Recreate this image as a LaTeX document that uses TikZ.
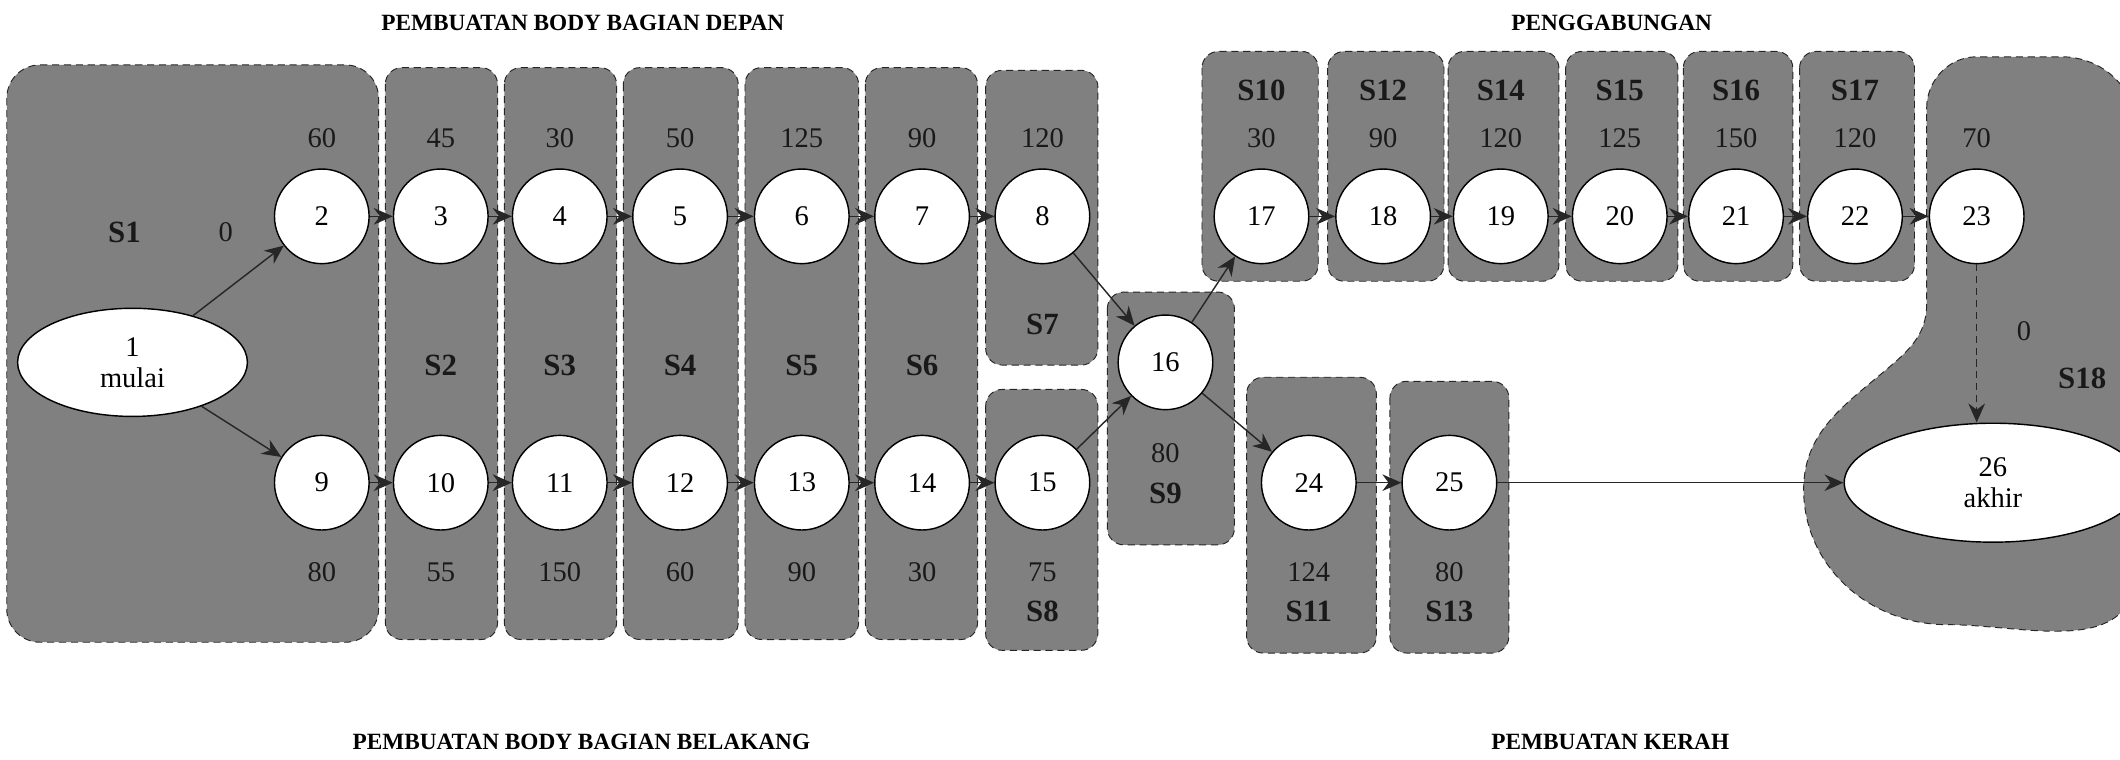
\documentclass[tikz,border=0pt]{standalone}
\usepackage{fontspec}
\setmainfont{Liberation Serif}
\usetikzlibrary{arrows.meta,shapes.geometric}
\begin{document}
\begin{tikzpicture}[x=0.02cm, y=-0.02cm, >={Stealth[length=8pt,width=7pt]},
    stasiun/.style={fill=black!50, draw=black!85, densely dashed, thin, rounded corners=7pt},
    simpul/.style={circle, draw, semithick, fill=white, minimum size=1.4cm, inner sep=0pt, font=\fontsize{12}{12}\selectfont},
    ujung/.style={ellipse, draw, semithick, fill=white, inner sep=0pt, align=center, font=\fontsize{12}{13}\selectfont},
    waktu/.style={font=\fontsize{12}{12}\selectfont, text=black!90},
    kode/.style={font=\bfseries\fontsize{13}{13}\selectfont, text=black!90},
    judul/.style={font=\bfseries\fontsize{9.8}{10}\selectfont},
    panah/.style={->, draw=black!85, semithick}]
    \useasboundingbox (0,0) rectangle (1568,562);

    % judul
    \node[judul] (jdepan) at (431,17) {PEMBUATAN BODY BAGIAN DEPAN};
    \node[judul] (jgabung) at (1192,17) {PENGGABUNGAN};
    \node[judul] (jbelakang) at (430,549) {PEMBUATAN BODY BAGIAN BELAKANG};
    \node[judul] (jkerah) at (1191,549) {PEMBUATAN KERAH};

    % stasiun kerja
    \fill[stasiun, rounded corners=14pt] (5,48) rectangle (280,475);
    \foreach \xa/\xb in {285/368, 373/456, 461/546, 551/635, 640/723}
        \fill[stasiun] (\xa,50) rectangle (\xb,473);
    \fill[stasiun] (729,52) rectangle (812,270);
    \fill[stasiun] (729,288) rectangle (812,481);
    \fill[stasiun] (819,216) rectangle (913,403);
    \foreach \xa/\xb in {889/975, 982/1068, 1071/1153, 1158/1241, 1245/1326, 1331/1416}
        \fill[stasiun] (\xa,38) rectangle (\xb,208);
    \fill[stasiun] (922,279) rectangle (1018,483);
    \fill[stasiun] (1028,282) rectangle (1116,483);
    % S18
    \fill[stasiun, rounded corners=0pt] (1425,80) to[out=90,in=180] (1462,42) -- (1525,42)
        to[out=0,in=90] (1580,95) -- (1580,430) to[out=-100,in=0] (1440,462)
        to[out=180,in=-90] (1334,362) to[out=90,in=-140] (1392,276)
        to[out=40,in=-90] (1425,225) -- cycle;

    % simpul
    \node[ujung, minimum width=3.4cm, minimum height=1.6cm] (1) at (98,268) {1\\mulai};
    \foreach \n/\x in {2/238, 3/326, 4/414, 5/503, 6/593, 7/682, 8/771}
        \node[simpul] (\n) at (\x,160) {\n};
    \foreach \n/\x in {9/238, 10/326, 11/414, 12/503, 13/593, 14/682, 15/771}
        \node[simpul] (\n) at (\x,357) {\n};
    \node[simpul] (16) at (862,268) {16};
    \foreach \n/\x in {17/933, 18/1023, 19/1110, 20/1198, 21/1284, 22/1372, 23/1462}
        \node[simpul] (\n) at (\x,160) {\n};
    \node[simpul] (24) at (968,357) {24};
    \node[simpul] (25) at (1072,357) {25};
    \node[ujung, minimum width=4.4cm, minimum height=1.76cm] (26) at (1474,357) {26\\akhir};

    % waktu proses
    \node[waktu] (w1) at (167,172) {0};
    \foreach \n/\x/\t in {2/238/60, 3/326/45, 4/414/30, 5/503/50, 6/593/125, 7/682/90, 8/771/120,
        17/933/30, 18/1023/90, 19/1110/120, 20/1198/125, 21/1284/150, 22/1372/120, 23/1462/70}
        \node[waktu] (w\n) at (\x,102) {\t};
    \foreach \n/\x/\t in {9/238/80, 10/326/55, 11/414/150, 12/503/60, 13/593/90, 14/682/30, 15/771/75,
        24/968/124, 25/1072/80}
        \node[waktu] (w\n) at (\x,423) {\t};
    \node[waktu] (w16) at (862,335) {80};
    \node[waktu] (w26) at (1497,245) {0};

    % kode stasiun
    \node[kode] (k1) at (92,172) {S1};
    \foreach \i/\x in {2/326, 3/414, 4/503, 5/593, 6/682}
        \node[kode] (k\i) at (\x,270) {S\i};
    \node[kode] (k7) at (771,240) {S7};
    \node[kode] (k8) at (771,452) {S8};
    \node[kode] (k9) at (862,365) {S9};
    \foreach \i/\x in {10/933, 12/1023, 14/1110, 15/1198, 16/1284, 17/1372}
        \node[kode] (k\i) at (\x,67) {S\i};
    \node[kode] (k11) at (968,452) {S11};
    \node[kode] (k13) at (1072,452) {S13};
    \node[kode] (k18) at (1540,280) {S18};

    % aliran
    \draw[panah] (1) -- (2);
    \draw[panah] (1) -- (9);
    \foreach \a/\b in {2/3, 3/4, 4/5, 5/6, 6/7, 7/8, 9/10, 10/11, 11/12, 12/13, 13/14, 14/15,
        17/18, 18/19, 19/20, 20/21, 21/22, 22/23, 24/25}
        \draw[panah] (\a) -- (\b);
    \draw[panah] (8) -- (16);
    \draw[panah] (15) -- (16);
    \draw[panah] (16) -- (17);
    \draw[panah] (16) -- (24);
    \draw[panah, densely dashed] (23) -- (23 |- 26.north);
    \draw[panah] (25) -- (26);
\end{tikzpicture}
\end{document}
